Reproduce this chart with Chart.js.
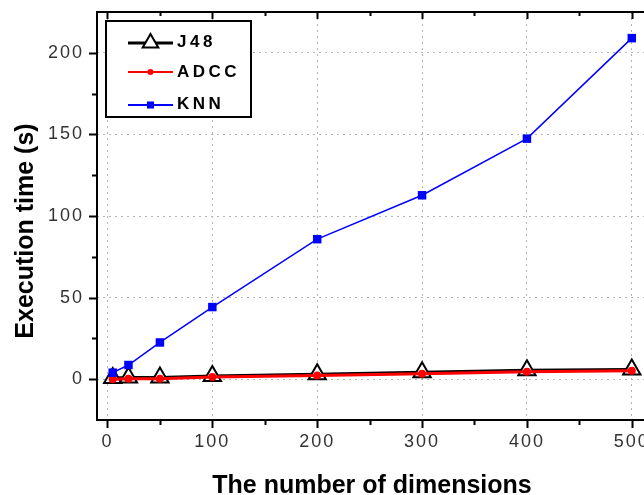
<!DOCTYPE html>
<html>
<head>
<meta charset="utf-8">
<script src="https://cdn.jsdelivr.net/npm/chart.js@4.4.1/dist/chart.umd.min.js"></script>
<style>
html, body { margin: 0; padding: 0; background: #fff; overflow: hidden; }
#wrap { width: 670px; height: 495px; }
</style>
</head>
<body>
<div id="wrap"><canvas id="grafico" width="670" height="495"></canvas></div>
<script>
// Dados
const dimensoes = [5, 20, 50, 100, 200, 300, 400, 500];
const tempoJ48 = [0.8, 1.0, 1.0, 2.0, 3.0, 4.2, 5.5, 6.0];
const tempoADCC = [0.0, 0.3, 0.3, 1.3, 2.3, 3.3, 4.5, 5.2];
const tempoKNN = [4.0, 8.7, 22.5, 44.2, 85.8, 112.7, 147.4, 209.0];
const ticksX = [0, 100, 200, 300, 400, 500];
const ticksY = [0, 50, 100, 150, 200];
const nomesSeries = ['J48', 'ADCC', 'KNN'];

const pontos = (ys) => dimensoes.map((x, i) => ({ x: x, y: ys[i] }));

const estilos = [
    { cor: '#000000', linha: 3, ponto: 'triangle', raio: 10, fundo: '#ffffff', borda: 2 },
    { cor: '#ff0000', linha: 3, ponto: 'circle', raio: 4, fundo: '#ff0000', borda: 0 },
    { cor: '#0000ff', linha: 1.5, ponto: 'rect', raio: 6, fundo: '#0000ff', borda: 0 }
];

// Moldura, marcas dos eixos, títulos e legenda
const molduraPlugin = {
    id: 'moldura',
    beforeDraw(chart) {
        chart.ctx.letterSpacing = '2px';
    },
    afterDraw(chart) {
        const ctx = chart.ctx;
        const a = chart.chartArea;
        const sx = chart.scales.x;
        const sy = chart.scales.y;
        ctx.save();
        ctx.letterSpacing = '0px';
        ctx.strokeStyle = '#000';
        ctx.lineWidth = 2;
        ctx.beginPath();
        ctx.moveTo(a.left, a.top); ctx.lineTo(a.right, a.top);
        ctx.moveTo(a.left, a.bottom); ctx.lineTo(a.right, a.bottom);
        ctx.moveTo(a.left, a.top - 1); ctx.lineTo(a.left, a.bottom + 1);
        ctx.moveTo(a.right, a.top - 1); ctx.lineTo(a.right, a.bottom + 1);
        ctx.stroke();

        ctx.beginPath();
        for (let v = 0; v <= 500; v += 50) {
            const px = Math.round(sx.getPixelForValue(v)) + 0.5;
            const maior = v % 100 === 0;
            ctx.moveTo(px, a.bottom); ctx.lineTo(px, a.bottom + (maior ? 8 : 5));
            ctx.moveTo(px, a.top); ctx.lineTo(px, a.top + (maior ? 7 : 4));
        }
        for (let v = 0; v <= 200; v += 25) {
            const py = Math.round(sy.getPixelForValue(v)) + 0.5;
            const maior = v % 50 === 0;
            ctx.moveTo(a.left, py); ctx.lineTo(a.left - (maior ? 8 : 5), py);
        }
        ctx.stroke();

        // títulos dos eixos
        ctx.fillStyle = '#000';
        ctx.font = 'bold 25px Arial, "Liberation Sans", sans-serif';
        ctx.textAlign = 'center';
        ctx.textBaseline = 'alphabetic';
        ctx.fillText('The number of dimensions', 372, 493);
        ctx.save();
        ctx.translate(33, 231);
        ctx.rotate(-Math.PI / 2);
        ctx.fillText('Execution time (s)', 0, 0);
        ctx.restore();

        // legenda
        ctx.lineWidth = 2;
        ctx.strokeStyle = '#000';
        ctx.fillStyle = '#fff';
        ctx.fillRect(106, 21, 145, 96);
        ctx.strokeRect(106, 21, 145, 96);
        const linhasY = [43, 72, 105];
        const textoY = [42, 72.5, 104];
        ctx.font = 'bold 17px Arial, "Liberation Sans", sans-serif';
        ctx.textAlign = 'left';
        ctx.textBaseline = 'middle';
        ctx.letterSpacing = '3.5px';
        nomesSeries.forEach((nome, i) => {
            const e = estilos[i];
            ctx.strokeStyle = e.cor;
            ctx.lineWidth = i === 0 ? 3 : 2;
            ctx.beginPath();
            ctx.moveTo(128, linhasY[i]); ctx.lineTo(173, linhasY[i]);
            ctx.stroke();
            ctx.fillStyle = e.fundo;
            ctx.strokeStyle = e.cor;
            ctx.lineWidth = e.borda;
            Chart.helpers.drawPoint(ctx, { pointStyle: e.ponto, rotation: 0, radius: e.raio - 1, borderWidth: e.borda }, 150.5, linhasY[i]);
            ctx.fillStyle = '#000';
            ctx.fillText(nome, 177, textoY[i]);
        });
        ctx.restore();
    }
};

const ctxGraf = document.getElementById('grafico').getContext('2d');
new Chart(ctxGraf, {
    type: 'scatter',
    data: {
        datasets: [tempoJ48, tempoADCC, tempoKNN].map((serie, i) => ({
            label: nomesSeries[i],
            data: pontos(serie),
            showLine: true,
            borderColor: estilos[i].cor,
            borderWidth: estilos[i].linha,
            pointStyle: estilos[i].ponto,
            pointRadius: estilos[i].raio,
            pointBackgroundColor: estilos[i].fundo,
            pointBorderColor: estilos[i].cor,
            pointBorderWidth: estilos[i].borda,
            tension: 0,
            clip: false,
            order: 3 - i
        }))
    },
    options: {
        responsive: false,
        animation: false,
        layout: { padding: { top: 10, right: 12, left: 0, bottom: 0 } },
        plugins: { legend: { display: false }, tooltip: { enabled: false } },
        scales: {
            x: {
                type: 'linear', min: -10, max: 525,
                afterBuildTicks: (s) => { s.ticks = ticksX.map(v => ({ value: v })); },
                afterFit: (s) => { s.height = 75; s.paddingLeft = 0; s.paddingRight = 0; },
                grid: { color: '#b4b4b4', lineWidth: 1, drawTicks: false },
                border: { display: false, dash: [2, 4] },
                ticks: { padding: 11, color: '#333', maxRotation: 0, autoSkip: false, font: { family: 'Arial, "Liberation Sans", sans-serif', size: 18 } }
            },
            y: {
                type: 'linear', min: -25, max: 225,
                afterBuildTicks: (s) => { s.ticks = ticksY.map(v => ({ value: v })); },
                afterFit: (s) => { s.width = 97; s.paddingTop = 0; s.paddingBottom = 0; },
                grid: { color: '#b4b4b4', lineWidth: 1, drawTicks: false },
                border: { display: false, dash: [2, 4] },
                ticks: { padding: 13, color: '#333', autoSkip: false, font: { family: 'Arial, "Liberation Sans", sans-serif', size: 18 } }
            }
        }
    },
    plugins: [molduraPlugin]
});
</script>
</body>
</html>
